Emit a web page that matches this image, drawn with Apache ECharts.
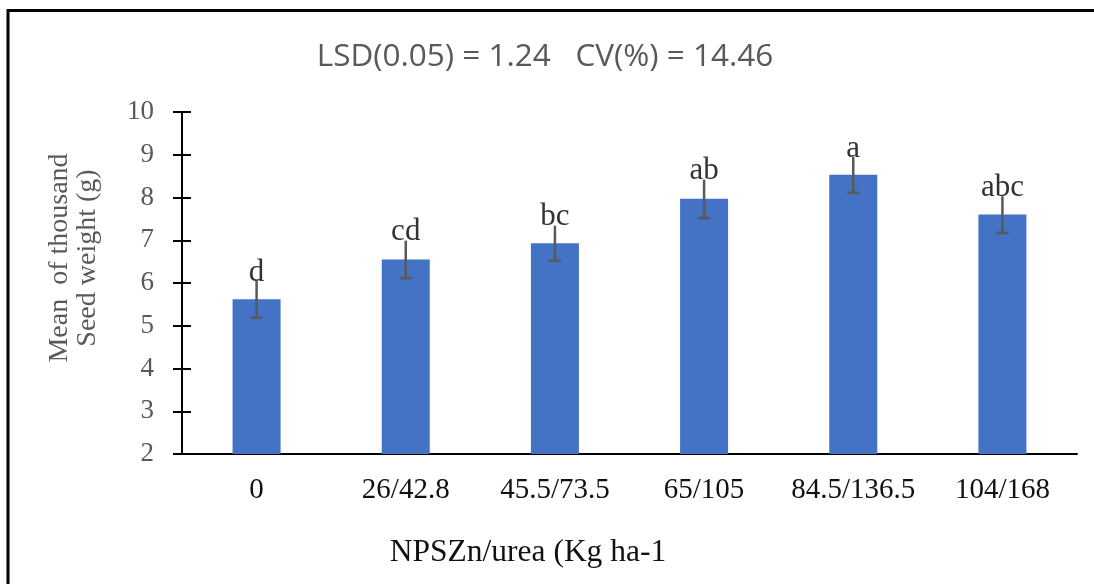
<!DOCTYPE html>
<html>
<head>
<meta charset="utf-8">
<script src="https://cdn.jsdelivr.net/npm/echarts@6/dist/echarts.min.js"></script>
<style>
  html, body { margin: 0; padding: 0; background: #fff; }
  #chart { width: 1094px; height: 584px; }
</style>
</head>
<body>
<div id="chart"></div>
<script>
// thousand seed weight by NPSZn/urea rate
const categories = ["0", "26/42.8", "45.5/73.5", "65/105", "84.5/136.5", "104/168"]
const means = [5.62, 6.55, 6.93, 7.97, 8.53, 7.60]
const errors = [0.43, 0.44, 0.41, 0.45, 0.42, 0.43]
const letters = ["d", "cd", "bc", "ab", "a", "abc"]
const yTicks = [2, 3, 4, 5, 6, 7, 8, 9, 10]

const chart = echarts.init(document.getElementById("chart"))

const serif = "'Liberation Serif', 'Times New Roman', serif"

const errData = means.map((m, i) => [i, m - errors[i], m + errors[i], letters[i]])

const options = {
  animation: false,
  backgroundColor: "#fff",
  title: {
    text: "LSD(0.05) = 1.24   CV(%) = 14.46",
    left: 540,
    textAlign: "center",
    top: 36,
    textStyle: { fontFamily: "'Open Sans', sans-serif", fontSize: 31.5, fontWeight: "normal", color: "#595959" }
  },
  grid: { left: 182, right: 17, top: 112, bottom: 130 },
  xAxis: {
    type: "category",
    data: categories,
    axisLine: { lineStyle: { color: "#000", width: 2 } },
    axisTick: { show: false },
    axisLabel: { interval: 0, margin: 22, fontFamily: serif, fontSize: 29, color: "#111" }
  },
  yAxis: [
    {
      type: "value",
      min: yTicks[0],
      max: yTicks[yTicks.length - 1],
      interval: 1,
      splitLine: { show: false },
      axisLine: { show: true, lineStyle: { color: "#000", width: 2 } },
      axisTick: { show: true, length: 9, lineStyle: { color: "#000", width: 2 } },
      axisLabel: { margin: 28, fontFamily: serif, fontSize: 27, color: "#595959" }
    },
    {
      type: "value",
      position: "left",
      min: yTicks[0],
      max: yTicks[yTicks.length - 1],
      interval: 1,
      splitLine: { show: false },
      axisLine: { show: false },
      axisTick: { show: true, inside: true, length: 9, lineStyle: { color: "#000", width: 2 } },
      axisLabel: { show: false }
    }
  ],
  graphic: [
    {
      type: "rect",
      shape: { x: 8, y: 10.5, width: 1300, height: 800 },
      style: { fill: "none", stroke: "#000", lineWidth: 3 },
      z: 100
    },
    {
      type: "text",
      x: 74,
      y: 258,
      rotation: Math.PI / 2,
      style: {
        text: "Mean  of thousand\nSeed weight (g)",
        fontFamily: serif,
        fontSize: 28,
        lineHeight: 28,
        fill: "#595959",
        align: "center",
        verticalAlign: "middle"
      }
    },
    {
      type: "text",
      x: 528,
      y: 553,
      style: {
        text: "NPSZn/urea (Kg ha-1",
        fontFamily: serif,
        fontSize: 31.5,
        fill: "#111",
        align: "center",
        verticalAlign: "middle"
      }
    }
  ],
  series: [
    {
      type: "bar",
      data: means,
      barWidth: 48,
      itemStyle: { color: "#4472C4" }
    },
    {
      type: "custom",
      data: errData,
      z: 10,
      renderItem: function (params, api) {
        const x = api.coord([api.value(0), 0])[0]
        const lo = api.coord([api.value(0), api.value(1)])[1]
        const hi = api.coord([api.value(0), api.value(2)])[1]
        const half = 6
        const stroke = { stroke: "#595959", lineWidth: 2.5 }
        return {
          type: "group",
          children: [
            { type: "line", shape: { x1: x, y1: hi, x2: x, y2: lo }, style: stroke },
            { type: "line", shape: { x1: x - half, y1: lo, x2: x + half, y2: lo }, style: stroke },
            {
              type: "text",
              x: x,
              y: hi + 7,
              style: {
                text: letters[params.dataIndex],
                fontFamily: serif,
                fontSize: 31,
                fill: "#333",
                align: "center",
                verticalAlign: "bottom"
              }
            }
          ]
        }
      }
    }
  ]
}

chart.setOption(options)
</script>
</body>
</html>
